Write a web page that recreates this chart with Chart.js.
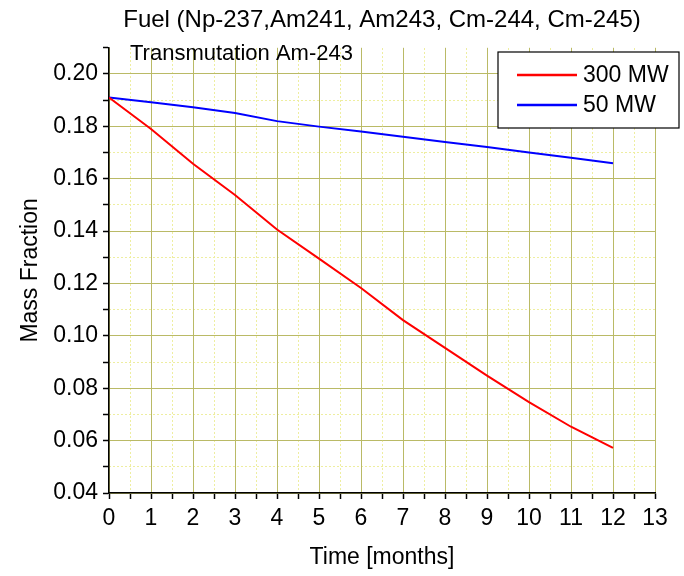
<!DOCTYPE html>
<html>
<head>
<meta charset="utf-8">
<script src="https://cdn.jsdelivr.net/npm/chart.js@4.4.0/dist/chart.umd.min.js"></script>
<style>
  html, body { margin: 0; padding: 0; background: #fff; }
  #wrap { width: 684px; height: 576px; }
</style>
</head>
<body>
<div id="wrap"><canvas id="fuelChart"></canvas></div>
<script>
// time in months
const months = [0, 1, 2, 3, 4, 5, 6, 7, 8, 9, 10, 11, 12];
// Am-243 mass fraction
const mw300 = [0.191, 0.1790, 0.1657, 0.1538, 0.1406, 0.1295, 0.1183, 0.1060, 0.0954, 0.0848, 0.0747, 0.0653, 0.0572];
const mw50  = [0.191, 0.1892, 0.1873, 0.1851, 0.1820, 0.1799, 0.1780, 0.1760, 0.1740, 0.1721, 0.1700, 0.1680, 0.1659];
const seriesLabels = ['300 MW', '50 MW'];
const seriesColors = ['#ff0000', '#0000ff'];

const titleText = 'Fuel (Np-237,Am241, Am243, Cm-244, Cm-245)';
const subtitleText = 'Transmutation Am-243';

// ticks: major + minor (half step)
const xTicks = [];
for (let i = 0; i <= 26; i++) xTicks.push(i / 2);
const yTicks = [];
for (let i = 4; i <= 21; i++) yTicks.push(i / 100);

const FONT = '"Liberation Sans", Arial, sans-serif';
const majorGrid = '#baba66';
const minorGrid = '#eeeea0';

function isMajorX(v) { return Math.abs(v - Math.round(v)) < 1e-6; }
function isMajorY(v) { const k = v / 0.02; return Math.abs(k - Math.round(k)) < 1e-6; }

// legend box + subtitle drawn inside the plot like the original
const boxLegend = {
  id: 'boxLegend',
  afterDraw(chart) {
    const ctx = chart.ctx;
    ctx.save();
    ctx.fillStyle = '#000';
    ctx.font = '22px ' + FONT;
    ctx.textBaseline = 'middle';
    ctx.textAlign = 'left';
    ctx.fillText(subtitleText, 130, 54);

    const left = 498, top = 52, right = 679, bottom = 128;
    ctx.fillStyle = '#fff';
    ctx.fillRect(left, top, right - left, bottom - top);
    ctx.strokeStyle = '#000';
    ctx.lineWidth = 1.2;
    ctx.strokeRect(left, top, right - left, bottom - top);

    ctx.font = '23px ' + FONT;
    chart.data.datasets.forEach((ds, i) => {
      const y = 75 + i * 30;
      ctx.strokeStyle = ds.borderColor;
      ctx.lineWidth = 2.5;
      ctx.beginPath();
      ctx.moveTo(517, y);
      ctx.lineTo(577, y);
      ctx.stroke();
      ctx.fillStyle = '#000';
      ctx.fillText(ds.label, 583, y + 1);
    });
    ctx.restore();
  }
};

const data = {
  datasets: [
    {
      label: seriesLabels[0],
      borderColor: seriesColors[0],
      data: months.map((m, i) => ({ x: m, y: mw300[i] })),
      borderWidth: 2,
      pointRadius: 0,
      fill: false,
      tension: 0
    },
    {
      label: seriesLabels[1],
      borderColor: seriesColors[1],
      data: months.map((m, i) => ({ x: m, y: mw50[i] })),
      borderWidth: 2,
      pointRadius: 0,
      fill: false,
      tension: 0
    }
  ]
};

const config = {
  type: 'line',
  data: data,
  plugins: [boxLegend],
  options: {
    responsive: true,
    maintainAspectRatio: false,
    animation: false,
    layout: { padding: { left: 0, right: 29, top: 0, bottom: 0 } },
    plugins: {
      legend: { display: false },
      tooltip: { enabled: false },
      title: {
        display: true,
        text: titleText,
        fullSize: false,
        color: '#000',
        font: { family: FONT, size: 24, weight: 'normal' },
        padding: { top: 6, bottom: 13 }
      }
    },
    scales: {
      // minor dotted grid (half steps)
      xMinor: {
        type: 'linear',
        position: 'top',
        min: 0,
        max: 13,
        afterBuildTicks: (scale) => { scale.ticks = xTicks.filter(v => !isMajorX(v)).map(v => ({ value: v })); },
        afterFit: (scale) => { scale.height = 0; },
        ticks: { display: false },
        grid: { color: minorGrid, lineWidth: 1, drawTicks: false },
        border: { display: false, dash: [2, 2] }
      },
      yMinor: {
        type: 'linear',
        position: 'right',
        min: 0.04,
        max: 0.21,
        afterBuildTicks: (scale) => { scale.ticks = yTicks.filter(v => !isMajorY(v) && v < 0.205).map(v => ({ value: v })); },
        afterFit: (scale) => { scale.width = 0; },
        ticks: { display: false },
        grid: { color: minorGrid, lineWidth: 1, drawTicks: false },
        border: { display: false, dash: [2, 2] }
      },
      x: {
        type: 'linear',
        min: 0,
        max: 13,
        afterBuildTicks: (scale) => { scale.ticks = xTicks.map(v => ({ value: v })); },
        afterFit: (scale) => { scale.height = 83; },
        ticks: {
          color: '#000',
          font: { family: FONT, size: 23 },
          padding: 6,
          maxRotation: 0,
          autoSkip: false,
          callback: (v) => isMajorX(v) ? String(Math.round(v)) : ''
        },
        grid: {
          color: (c) => isMajorX(c.tick.value) ? majorGrid : 'rgba(0,0,0,0)',
          lineWidth: 1,
          drawTicks: true,
          tickLength: 6,
          tickColor: '#000',
          tickWidth: 1.5
        },
        border: { color: '#000', width: 1.5 },
        title: {
          display: true,
          text: 'Time [months]',
          color: '#000',
          font: { family: FONT, size: 23 },
          padding: { top: 0, bottom: 5 }
        }
      },
      y: {
        type: 'linear',
        position: 'left',
        min: 0.04,
        max: 0.21,
        afterBuildTicks: (scale) => { scale.ticks = yTicks.map(v => ({ value: v })); },
        afterFit: (scale) => { scale.width = 109; },
        ticks: {
          color: '#000',
          font: { family: FONT, size: 23 },
          padding: 5,
          autoSkip: false,
          callback: (v) => (isMajorY(v) && v < 0.205) ? v.toFixed(2) : ''
        },
        grid: {
          color: (c) => (c.tick.value < 0.205 && isMajorY(c.tick.value)) ? majorGrid : 'rgba(0,0,0,0)',
          lineWidth: 1,
          drawTicks: true,
          tickLength: 6,
          tickColor: '#000',
          tickWidth: 1.5
        },
        border: { color: '#000', width: 1.5 },
        title: {
          display: true,
          text: 'Mass Fraction',
          color: '#000',
          font: { family: FONT, size: 23 },
          padding: { top: 17, bottom: 0 }
        }
      }
    }
  }
};

const ctx = document.getElementById('fuelChart').getContext('2d');
const fuelChart = new Chart(ctx, config);
</script>
</body>
</html>
